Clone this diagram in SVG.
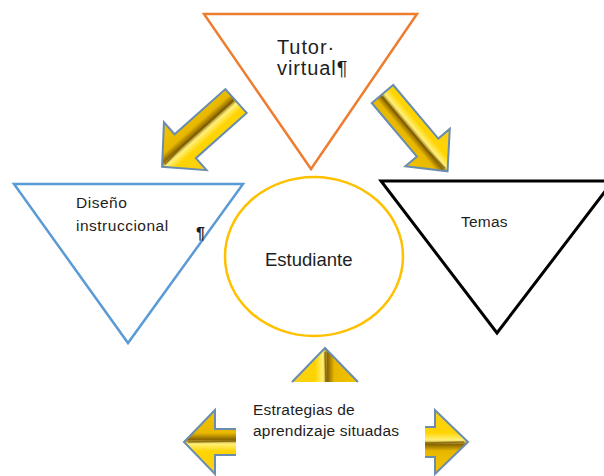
<svg xmlns="http://www.w3.org/2000/svg" width="604" height="476" viewBox="0 0 604 476">
<style>
text{font-family:"Liberation Sans",Arial,sans-serif;fill:#1e1e1e}
.arrow{fill:url(#gold);stroke:#6a8cae;stroke-width:2;stroke-linejoin:miter}
.ridge{fill:none;stroke:#6b4f00;stroke-width:1.5;opacity:.6}
</style>
<defs>
<linearGradient id="gold" gradientUnits="objectBoundingBox" x1="0" y1="0" x2="0" y2="1">
<stop offset="0" stop-color="#f7cf1c"/>
<stop offset="0.35" stop-color="#ffd400"/>
<stop offset="0.47" stop-color="#fff07a"/>
<stop offset="0.54" stop-color="#8a6500"/>
<stop offset="0.64" stop-color="#e8b800"/>
<stop offset="1" stop-color="#f4c400"/>
</linearGradient>
</defs>
<rect width="604" height="476" fill="#fff"/>
<g id="tutor">
<polygon points="204,14 417,14 311,169" fill="none" stroke="#ed7d31" stroke-width="2.5"/>
<text x="277" y="54" font-size="20" letter-spacing="0.9">Tutor·</text>
<text x="277" y="75" font-size="20" letter-spacing="0.9">virtual¶</text>
</g>
<g id="diseno">
<polygon points="14,184 243,184 128,343" fill="none" stroke="#5b9bd5" stroke-width="2.5"/>
<text x="76" y="208" font-size="15.5" letter-spacing="0.5">Diseño</text>
<text x="76" y="231" font-size="15.5" letter-spacing="0.5">instruccional</text>
<text x="196" y="239" font-size="16" font-weight="bold">¶</text>
</g>
<g id="temas">
<polygon points="381,181 613,181 497,333" fill="none" stroke="#000" stroke-width="3"/>
<text x="461" y="227" font-size="15.5" letter-spacing="0.2">Temas</text>
</g>
<g id="estudiante">
<ellipse cx="314" cy="256.5" rx="89" ry="79.5" fill="none" stroke="#ffc000" stroke-width="2.5"/>
<text x="265" y="266" font-size="18.5">Estudiante</text>
</g>
<g id="estrategias">
<text x="253" y="415" font-size="15.5" letter-spacing="0.2">Estrategias de</text>
<text x="253" y="436" font-size="15.5" letter-spacing="0.2">aprendizaje situadas</text>
</g>
<g id="connectors">
<g transform="translate(236,101) rotate(138.3)">
<path class="arrow" d="M0,-16 L68,-16 L68,-32 L99,0 L68,32 L68,16 L0,16 Z"/>
<path class="ridge" d="M2,2 L70,2 L95,0"/>
</g>
<g transform="translate(382.5,94) rotate(49.9)">
<path class="arrow" d="M0,-14 L70,-14 L70,-29 L101,0 L70,29 L70,14 L0,14 Z"/>
<path class="ridge" d="M2,2 L72,2 L97,0"/>
</g>
<g transform="translate(325,382) rotate(-90)">
<path class="arrow" d="M0,33 L34,0 L0,-33"/>
<path class="ridge" d="M0,1 L30,0"/>
</g>
<g transform="translate(236,442) rotate(180)">
<path class="arrow" d="M0,-13 L21,-13 L21,-32 L52,0 L21,32 L21,13 L0,13"/>
<path class="ridge" d="M0,1 L48,0"/>
</g>
<g transform="translate(425,442)">
<path class="arrow" d="M0,-15 L10,-15 L10,-32 L43,0 L10,32 L10,15 L0,15"/>
<path class="ridge" d="M0,1 L39,0"/>
</g>
</g>
</svg>
